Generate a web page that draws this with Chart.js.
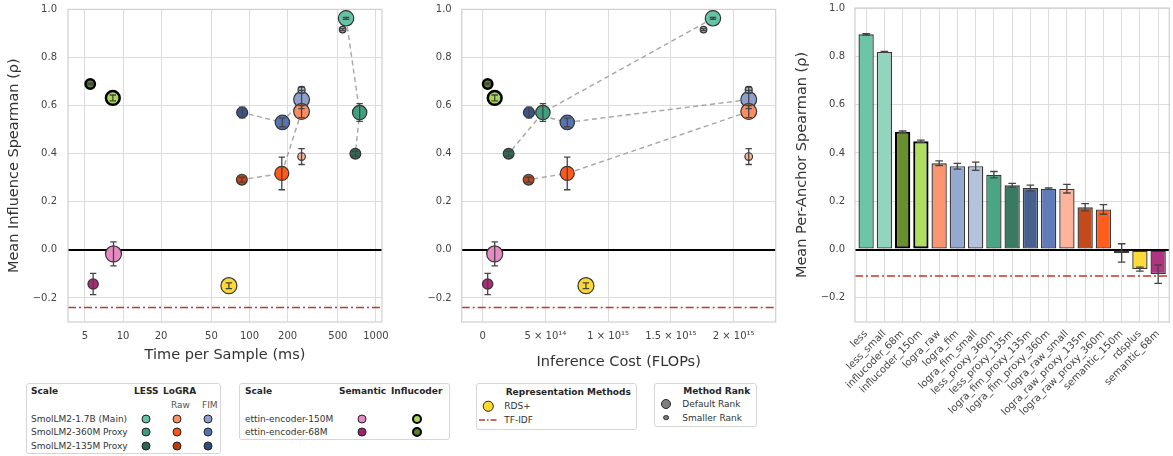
<!DOCTYPE html>
<html><head><meta charset="utf-8">
<script src="https://cdn.jsdelivr.net/npm/chart.js@4.4.1/dist/chart.umd.min.js"></script>
<style>
html,body{margin:0;padding:0;background:#fff;}
body{width:1173px;height:456px;position:relative;overflow:hidden;font-family:"DejaVu Sans",sans-serif;}
canvas{position:absolute;}
.lg{position:absolute;border:1px solid #d6d6d6;border-radius:3px;background:#fff;box-sizing:border-box;}
.t{position:absolute;font-size:9px;color:#333;white-space:nowrap;line-height:1;transform:translateY(-50%);}
.b{font-weight:bold;color:#262626;}
.s{color:#555;}
.dot{position:absolute;border-radius:50%;border:1.3px solid #222;transform:translate(-50%,-50%);box-sizing:border-box;}
</style></head>
<body>
<canvas id="c1" style="left:0;top:0" width="400" height="380"></canvas>
<canvas id="c2" style="left:400px;top:0" width="390" height="380"></canvas>
<canvas id="c3" style="left:790px;top:0" width="383" height="456"></canvas>

<!-- Legend 1 -->
<div class="lg" style="left:26px;top:383px;width:195px;height:71px"></div>
<div class="t b" style="left:31px;top:391px">Scale</div>
<div class="t b" style="left:134px;top:391px">LESS</div>
<div class="t b" style="left:163px;top:391px">LoGRA</div>
<div class="t s" style="left:171px;top:404.5px">Raw</div>
<div class="t s" style="left:202px;top:404.5px">FIM</div>
<div class="t" style="left:31px;top:418.5px">SmolLM2-1.7B (Main)</div>
<div class="t" style="left:31px;top:432px">SmolLM2-360M Proxy</div>
<div class="t" style="left:31px;top:446px">SmolLM2-135M Proxy</div>
<div class="dot" style="left:145.7px;top:418.5px;width:9px;height:9px;background:#66c2a5"></div>
<div class="dot" style="left:177px;top:418.5px;width:9px;height:9px;background:#fc8d62"></div>
<div class="dot" style="left:208px;top:418.5px;width:9px;height:9px;background:#8da0cb"></div>
<div class="dot" style="left:145.7px;top:432px;width:9px;height:9px;background:#3a9c79"></div>
<div class="dot" style="left:177px;top:432px;width:9px;height:9px;background:#fd5515"></div>
<div class="dot" style="left:208px;top:432px;width:9px;height:9px;background:#5472b4"></div>
<div class="dot" style="left:145.7px;top:446px;width:9px;height:9px;background:#2b6650"></div>
<div class="dot" style="left:177px;top:446px;width:9px;height:9px;background:#b83c0c"></div>
<div class="dot" style="left:208px;top:446px;width:9px;height:9px;background:#344a7c"></div>

<!-- Legend 2 -->
<div class="lg" style="left:239px;top:383px;width:211px;height:57px"></div>
<div class="t b" style="left:245px;top:391px">Scale</div>
<div class="t b" style="left:339px;top:391px">Semantic</div>
<div class="t b" style="left:391px;top:391px">Influcoder</div>
<div class="t" style="left:245px;top:418.5px">ettin-encoder-150M</div>
<div class="t" style="left:245px;top:432px">ettin-encoder-68M</div>
<div class="dot" style="left:361.7px;top:418.5px;width:9px;height:9px;background:#e78ac3"></div>
<div class="dot" style="left:361.7px;top:432px;width:9px;height:9px;background:#a3206f"></div>
<div class="dot" style="left:416.7px;top:418.5px;width:10px;height:10px;background:#a6d854;border:2.4px solid #000"></div>
<div class="dot" style="left:416.7px;top:432px;width:10px;height:10px;background:#587f22;border:2.4px solid #000"></div>

<!-- Legend 3 -->
<div class="lg" style="left:476px;top:383px;width:161px;height:47px"></div>
<div class="t b" style="left:505.7px;top:391.5px">Representation Methods</div>
<div class="dot" style="left:488.3px;top:406px;width:10.5px;height:10.5px;background:#ffd92f"></div>
<div class="t" style="left:504.3px;top:406px">RDS+</div>
<svg style="position:absolute;left:478px;top:416px" width="20" height="8"><line x1="1" y1="4" x2="19" y2="4" stroke="#c0392b" stroke-width="1.5" stroke-dasharray="6,2,1.5,2"/></svg>
<div class="t" style="left:504.3px;top:420px">TF-IDF</div>

<!-- Legend 4 -->
<div class="lg" style="left:653.5px;top:383px;width:103px;height:44px"></div>
<div class="t b" style="left:683.3px;top:391px">Method Rank</div>
<div class="dot" style="left:666px;top:404.3px;width:10px;height:10px;background:#7f7f7f"></div>
<div class="t" style="left:682.3px;top:404.3px">Default Rank</div>
<div class="dot" style="left:666px;top:417.7px;width:5.8px;height:5.8px;background:#7f7f7f;border-width:1.1px"></div>
<div class="t" style="left:682.3px;top:417.7px">Smaller Rank</div>

<script>
// ---------------- DATA ----------------
const methods = ['less','less_small','less_proxy_360m','less_proxy_135m',
  'logra_raw','logra_raw_small','logra_raw_proxy_360m','logra_raw_proxy_135m',
  'logra_fim','logra_fim_small','logra_fim_proxy_360m','logra_fim_proxy_135m',
  'semantic_150m','semantic_68m','influcoder_150m','influcoder_68m','rdsplus'];
const timePerSampleMs = [580, 545, 743, 687,
  258, 258, 180, 87,
  258, 258, 182, 87.5,
  8.4, 5.8, 8.3, 5.5, 68.7];
const inferenceFlops = [1.835e15, 1.76e15, 4.8e14, 2.07e14,
  2.12e15, 2.12e15, 6.74e14, 3.66e14,
  2.12e15, 2.12e15, 6.74e14, 3.69e14,
  9.6e13, 4.0e13, 9.6e13, 4.0e13, 8.23e14];
const influenceRho = [0.963, 0.916, 0.571, 0.400,
  0.575, 0.388, 0.318, 0.292,
  0.625, 0.665, 0.530, 0.571,
  -0.017, -0.142, 0.632, 0.690, -0.149];
const influenceErr = [0.004, 0.004, 0.037, 0.010,
  0.025, 0.033, 0.068, 0.010,
  0.038, 0.012, 0.018, 0.022,
  0.050, 0.044, 0.012, 0.004, 0.012];
const scalingChains = [
  ['less','less_proxy_360m','less_proxy_135m'],
  ['logra_raw','logra_raw_proxy_360m','logra_raw_proxy_135m'],
  ['logra_fim','logra_fim_proxy_360m','logra_fim_proxy_135m']];

const barLabels = ['less','less_small','influcoder_68m','influcoder_150m','logra_raw','logra_fim',
  'logra_fim_small','less_proxy_360m','less_proxy_135m','logra_fim_proxy_135m','logra_fim_proxy_360m',
  'logra_raw_small','logra_raw_proxy_135m','logra_raw_proxy_360m','semantic_150m','rdsplus','semantic_68m'];
const perAnchorRho = [0.891, 0.818, 0.488, 0.448, 0.357, 0.345,
  0.345, 0.310, 0.266, 0.255, 0.252,
  0.252, 0.175, 0.166, -0.014, -0.081, -0.102];
const perAnchorErr = [0.003, 0.002, 0.003, 0.005, 0.010, 0.012,
  0.017, 0.013, 0.008, 0.012, 0.003,
  0.018, 0.015, 0.020, 0.038, 0.008, 0.038];

const tfidfInfluence = -0.24;
const tfidfPerAnchor = -0.11;

const yTicks = [-0.2, 0, 0.2, 0.4, 0.6, 0.8, 1.0];
const yTickLabels = ['\u22120.2','0.0','0.2','0.4','0.6','0.8','1.0'];
const timeTicks = [5, 10, 20, 50, 100, 200, 500, 1000];
const timeTickLabels = ['5','10','20','50','100','200','500','1000'];
const flopTicks = [0, 5e14, 1e15, 1.5e15, 2e15];
const flopTickLabels = ['0','5 \u00d7 10\u00b9\u2074','1 \u00d7 10\u00b9\u2075','1.5 \u00d7 10\u00b9\u2075','2 \u00d7 10\u00b9\u2075'];

// ---------------- STYLES ----------------
const STYLE = {
  less:                 {c:'#66c2a5', r:7.7},
  less_small:           {c:'#7fcdb2', r:3.3},
  less_proxy_360m:      {c:'#3f9f7e', r:7.2},
  less_proxy_135m:      {c:'#2e6b55', r:5.4},
  logra_raw:            {c:'#fc8d62', r:7.9},
  logra_raw_small:      {c:'#fdb59b', r:3.8},
  logra_raw_proxy_360m: {c:'#fd5a1c', r:7.0},
  logra_raw_proxy_135m: {c:'#c1461c', r:5.4},
  logra_fim:            {c:'#8da0cb', r:7.9},
  logra_fim_small:      {c:'#b0bedb', r:3.5},
  logra_fim_proxy_360m: {c:'#5873b3', r:7.2},
  logra_fim_proxy_135m: {c:'#3d5488', r:5.5},
  semantic_150m:        {c:'#e78ac3', r:8.0},
  semantic_68m:         {c:'#aa2c79', r:5.2},
  influcoder_150m:      {c:'#a6d854', r:6.9, bw:2.5, bc:'#000'},
  influcoder_68m:       {c:'#5e8a2a', r:4.7, bw:2.5, bc:'#000'},
  rdsplus:              {c:'#fdd835', r:8.0}
};
const BAR_STYLE = {
  less:'#6cc5a7', less_small:'#92d4bd', influcoder_68m:'#6a8f30', influcoder_150m:'#b0dc5f',
  logra_raw:'#fc9670', logra_fim:'#95a8d0', logra_fim_small:'#b5c2dd', less_proxy_360m:'#4aa584',
  less_proxy_135m:'#3a7a62', logra_fim_proxy_135m:'#48608f', logra_fim_proxy_360m:'#5f7bb8',
  logra_raw_small:'#fdb49a', logra_raw_proxy_135m:'#c44a1c', logra_raw_proxy_360m:'#ff5e1f',
  semantic_150m:'#e993c7', rdsplus:'#ffdb3a', semantic_68m:'#b03481'
};
const drawSequence = ['less','logra_fim','logra_raw','less_proxy_360m','logra_fim_proxy_360m','logra_raw_proxy_360m',
  'less_proxy_135m','logra_fim_proxy_135m','logra_raw_proxy_135m','semantic_68m','semantic_150m',
  'influcoder_68m','influcoder_150m','rdsplus','less_small','logra_fim_small','logra_raw_small'];

const FONT = '"DejaVu Sans", sans-serif';
const GRID = '#dcdcdc';
const TICKC = '#444';
const TITLEC = '#333';

// ---------------- PLUGINS ----------------
function framePlugin(refValue) {
  return {
    id: 'frame',
    beforeDatasetsDraw(chart) {
      const {ctx, chartArea:a, scales:{y}} = chart;
      ctx.save();
      const py = y.getPixelForValue(refValue);
      ctx.strokeStyle = '#c0392b'; ctx.lineWidth = 1.5;
      ctx.setLineDash([8, 3, 2, 3]);
      ctx.beginPath(); ctx.moveTo(a.left, py); ctx.lineTo(a.right, py); ctx.stroke();
      ctx.setLineDash([]);
      ctx.restore();
    },
    afterDraw(chart) {
      const {ctx, chartArea:a} = chart;
      ctx.save();
      ctx.strokeStyle = '#cfcfcf'; ctx.lineWidth = 1.2;
      ctx.strokeRect(a.left, a.top, a.right - a.left, a.bottom - a.top);
      ctx.restore();
    }
  };
}
function errorPlugin(items, cap) {
  return {
    id: 'errbars',
    afterDatasetsDraw(chart) {
      const {ctx, scales:{x, y}} = chart;
      ctx.save();
      ctx.strokeStyle = '#444'; ctx.lineWidth = 1.3;
      items.forEach(it => {
        const px = x.getPixelForValue(it.x);
        const t = y.getPixelForValue(it.y + it.e), b = y.getPixelForValue(it.y - it.e);
        ctx.beginPath();
        ctx.moveTo(px, t); ctx.lineTo(px, b);
        ctx.moveTo(px - cap, t); ctx.lineTo(px + cap, t);
        ctx.moveTo(px - cap, b); ctx.lineTo(px + cap, b);
        ctx.stroke();
      });
      ctx.restore();
    }
  };
}
const noPad = s => { s.paddingTop = 0; s.paddingBottom = 0; s.paddingLeft = 0; s.paddingRight = 0; };

function yAxis(width, title, pad) {
  return {
    type: 'linear', min: -0.3, max: 1.0,
    afterBuildTicks: s => { s.ticks = yTicks.map(v => ({value: v})); },
    afterFit: s => { s.width = width; noPad(s); },
    grid: {
      drawTicks: false,
      color: c => (c.tick && c.tick.value === 0) ? '#000' : GRID,
      lineWidth: c => (c.tick && c.tick.value === 0) ? 2 : 1
    },
    border: {display: false},
    ticks: {
      padding: pad, color: TICKC, font: {family: FONT, size: 10},
      callback: (v, i) => yTickLabels[i]
    },
    title: title ? {display: true, text: title, color: TITLEC, font: {family: FONT, size: 14.5}, padding: 0} : {display: false}
  };
}

// ---------------- SCATTER PANELS ----------------
function makeScatter(id, xValues, xScale, padding) {
  const idx = m => methods.indexOf(m);
  const datasets = [];
  scalingChains.forEach(chain => {
    datasets.push({
      data: chain.map(m => ({x: xValues[idx(m)], y: influenceRho[idx(m)]})),
      showLine: true, pointRadius: 0, borderColor: 'rgba(150,150,150,0.85)',
      borderWidth: 1.4, borderDash: [5, 3.5], fill: false
    });
  });
  drawSequence.forEach(m => {
    const st = STYLE[m];
    datasets.push({
      data: [{x: xValues[idx(m)], y: influenceRho[idx(m)]}],
      pointRadius: st.r, pointHoverRadius: st.r,
      backgroundColor: st.c, borderColor: st.bc || '#333', borderWidth: st.bw || 1.2
    });
  });
  datasets.forEach((d, i) => { d.order = -i; });
  const errItems = methods.map((m, i) => ({x: xValues[i], y: influenceRho[i], e: influenceErr[i]}));
  return new Chart(document.getElementById(id), {
    type: 'scatter',
    data: {datasets},
    options: {
      responsive: false, animation: false,
      layout: {padding},
      plugins: {legend: {display: false}, tooltip: {enabled: false}},
      scales: {x: xScale.x, y: xScale.y}
    },
    plugins: [framePlugin(tfidfInfluence), errorPlugin(errItems, 3.2)]
  });
}

const xBase = (height, title, min, max, type, ticks, labels) => ({
  type, min, max,
  afterBuildTicks: s => { s.ticks = ticks.map(v => ({value: v})); },
  afterFit: s => { s.height = height; noPad(s); },
  grid: {drawTicks: false, color: GRID, lineWidth: 1},
  border: {display: false},
  ticks: {padding: 8, color: TICKC, font: {family: FONT, size: 10}, maxRotation: 0, autoSkip: false,
    callback: (v, i) => labels[i]},
  title: {display: true, text: title, color: TITLEC, font: {family: FONT, size: 14.5}, padding: 0}
});

makeScatter('c1', timePerSampleMs, {
  x: xBase(42.4, 'Time per Sample (ms)', 3.67, 1116, 'logarithmic', timeTicks, timeTickLabels),
  y: yAxis(62.6, 'Mean Influence Spearman (\u03c1)', 11)
}, {left: 5.4, top: 8, right: 18, bottom: 15.6});

makeScatter('c2', inferenceFlops, {
  x: xBase(48.7, 'Inference Cost (FLOPs)', -1.67e14, 2.335e15, 'linear', flopTicks, flopTickLabels),
  y: yAxis(61.7, null, 10)
}, {left: 0, top: 8, right: 14.3, bottom: 9.3});

// ---------------- BAR PANEL ----------------
new Chart(document.getElementById('c3'), {
  type: 'bar',
  data: {
    datasets: [{
      data: barLabels.map((l, i) => ({x: i, y: perAnchorRho[i]})),
      backgroundColor: barLabels.map(l => BAR_STYLE[l]),
      borderColor: barLabels.map(l => l.startsWith('influcoder') ? '#000' : '#3a3a3a'),
      borderWidth: barLabels.map(l => l.startsWith('influcoder') ? 2.2 : 1.4),
      borderSkipped: false,
      barPercentage: 0.84, categoryPercentage: 1.0
    }]
  },
  options: {
    responsive: false, animation: false,
    layout: {padding: {left: 3.3, top: 8, right: 3.7, bottom: 0}},
    plugins: {legend: {display: false}, tooltip: {enabled: false}},
    scales: {
      x: {
        type: 'linear', min: -0.61, max: 16.61, offset: false,
        afterBuildTicks: s => { s.ticks = barLabels.map((l, i) => ({value: i})); },
        afterFit: s => { s.height = 134; noPad(s); },
        grid: {drawTicks: false, color: GRID, lineWidth: 1, offset: false},
        border: {display: false},
        ticks: {padding: 6, color: TICKC, font: {family: FONT, size: 10}, autoSkip: false,
          minRotation: 45, maxRotation: 45, callback: (v, i) => barLabels[i]}
      },
      y: yAxis(61.7, 'Mean Per-Anchor Spearman (\u03c1)', 10)
    }
  },
  plugins: [framePlugin(tfidfPerAnchor),
    errorPlugin(barLabels.map((l, i) => ({x: i, y: perAnchorRho[i], e: perAnchorErr[i]})), 3.8)]
});
</script>
</body></html>
